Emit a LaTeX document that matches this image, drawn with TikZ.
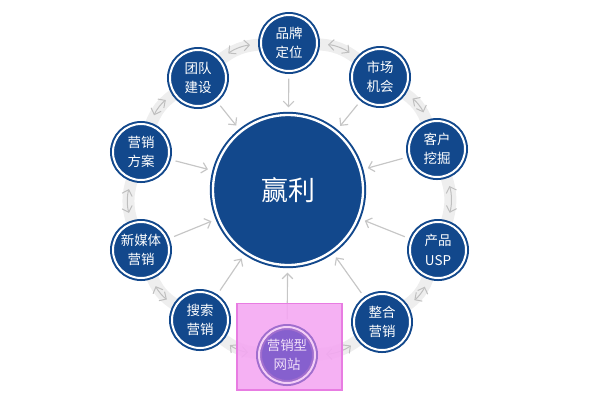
\documentclass[tikz,border=0pt]{standalone}
\usepackage{fontspec}
\newfontfamily\cjk{Noto Sans CJK SC}
\usetikzlibrary{arrows.meta}
\definecolor{navyb}{RGB}{18,72,140}
\definecolor{webfill}{RGB}{134,96,206}
\definecolor{webring}{RGB}{160,110,206}
\definecolor{webgap}{RGB}{244,206,246}
\definecolor{markfill}{RGB}{244,168,242}
\definecolor{markline}{RGB}{232,124,226}
\pgfdeclarelayer{bg}
\pgfsetlayers{bg,main}

\begin{document}
\begin{tikzpicture}[
    x=0.3mm, y=-0.3mm,
    hub/.style={circle, fill=navyb, draw=navyb, double=white,
                double distance=0.7mm, line width=0.6mm,
                minimum size=45mm, text=white,
                font=\cjk\fontsize{23}{27}\selectfont},
    bub/.style={circle, fill=navyb, draw=navyb, double=white,
                double distance=0.6mm, line width=0.6mm,
                minimum size=16.8mm, inner sep=0pt, align=center,
                text=white, font=\cjk\fontsize{11.5}{16.5}\selectfont},
    web/.style={bub, fill=webfill, draw=webring, double=webgap,
                text={rgb,255:red,240;green,222;blue,248}},
    band/.style={line width=3.6mm, gray!13, shorten <=-1mm, shorten >=-1mm},
    link/.style={<->, gray!50, line width=0.3mm, shorten <=3mm, shorten >=3mm},
    feed/.style={->, gray!45, line width=0.35mm, shorten <=2mm, shorten >=2mm},
    >={Straight Barb[length=1.6mm]}
]
\useasboundingbox (0,0) rectangle (600,400);

\node[hub] (win) at (288,190) {赢利};

% outer ring, clockwise from the top
\node[bub] (pin)   at (289,43)  {品牌\\定位};
\node[bub] (shi)   at (380,77)  {市场\\机会};
\node[bub] (ke)    at (437,149) {客户\\挖掘};
\node[bub] (chan)  at (438,250) {产品\\USP};
\node[bub] (zheng) at (382,322) {整合\\营销};
\node[draw=markline, line width=0.4mm, fill=markfill, fill opacity=0.9,
      minimum width=31.5mm, minimum height=26mm] (mark) at (289.5,346.5) {};
\node[web] (site)  at (287,355) {营销型\\网站};
\node[bub] (sou)   at (200,320) {搜索\\营销};
\node[bub] (xin)   at (141,250) {新媒体\\营销};
\node[bub] (fang)  at (141,152) {营销\\方案};
\node[bub] (tuan)  at (198,78)  {团队\\建设};

\begin{pgfonlayer}{bg}
\foreach \a/\b in {pin/shi, shi/ke, ke/chan, chan/zheng, zheng/site,
                   site/sou, sou/xin, xin/fang, fang/tuan, tuan/pin} {
  \draw[band] (\a) to[bend left=18] (\b);
  \draw[link] (\a) to[bend left=18] (\b);
}
\foreach \a in {pin, shi, ke, chan, zheng, site, sou, xin, fang, tuan}
  \draw[feed] (\a) -- (win);
\end{pgfonlayer}
\end{tikzpicture}
\end{document}
